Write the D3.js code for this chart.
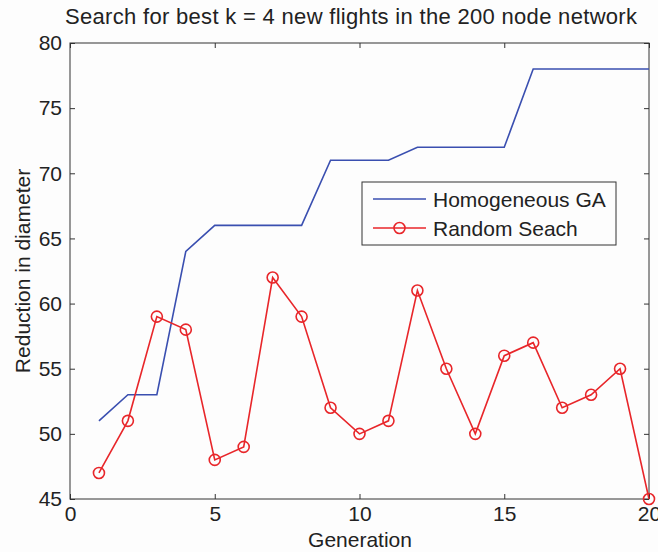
<!DOCTYPE html>
<html>
<head>
<meta charset="utf-8">
<script src="https://cdn.jsdelivr.net/npm/d3@7"></script>
<style>
  body { margin: 0; background: #fdfdfd; }
  svg { font-family: "Liberation Sans", Arial, sans-serif; }
</style>
</head>
<body>
<svg id="canvas" width="658" height="552"></svg>
<script>
/***********************************************************************/
// Data

var generations = d3.range(1, 21);
var gaValues = [51, 53, 53, 64, 66, 66, 66, 66, 71, 71, 71, 72, 72, 72, 72, 78, 78, 78, 78, 78];
var randomValues = [47, 51, 59, 58, 48, 49, 62, 59, 52, 50, 51, 61, 55, 50, 56, 57, 52, 53, 55, 45];
var xTicks = [0, 5, 10, 15, 20];
var yTicks = [45, 50, 55, 60, 65, 70, 75, 80];
var seriesNames = ['Homogeneous GA', 'Random Seach'];

/***********************************************************************/
// Layout

var plotLeft = 70, plotRight = 649, plotTop = 43, plotBottom = 499;
var svg = d3.select('#canvas');

svg.append('rect').attr('width', 658).attr('height', 552).attr('fill', '#fdfdfd');

var xScale = d3.scaleLinear().domain([0, 20]).range([plotLeft, plotRight]);
var yScale = d3.scaleLinear().domain([45, 80]).range([plotBottom, plotTop]);

/***********************************************************************/
// Axes (inward ticks, mirrored on top / right)

var axisColor = '#333';
var tickLen = 5;
var fontSize = 21;

function styleAxis(g){
  g.select('.domain').remove();
  g.selectAll('line').attr('stroke', axisColor);
  g.selectAll('text').attr('fill', '#222').attr('font-size', fontSize).attr('font-family', null);
}

svg.append('g').attr('transform', 'translate(0,' + plotBottom + ')')
  .call(d3.axisBottom(xScale).tickValues(xTicks).tickSizeInner(-tickLen).tickSizeOuter(0).tickPadding(7))
  .call(styleAxis);
svg.append('g').attr('transform', 'translate(0,' + plotTop + ')')
  .call(d3.axisTop(xScale).tickValues(xTicks).tickSizeInner(-tickLen).tickSizeOuter(0).tickFormat(''))
  .call(styleAxis);
svg.append('g').attr('transform', 'translate(' + plotLeft + ',0)')
  .call(d3.axisLeft(yScale).tickValues(yTicks).tickSizeInner(-tickLen).tickSizeOuter(0).tickPadding(8))
  .call(styleAxis);
svg.append('g').attr('transform', 'translate(' + plotRight + ',0)')
  .call(d3.axisRight(yScale).tickValues(yTicks).tickSizeInner(-tickLen).tickSizeOuter(0).tickFormat(''))
  .call(styleAxis);

svg.append('rect')
  .attr('x', plotLeft).attr('y', plotTop).attr('width', plotRight - plotLeft).attr('height', plotBottom - plotTop)
  .attr('fill', 'none').attr('stroke', axisColor).attr('stroke-width', 1);

/***********************************************************************/
// Lines

var line = d3.line().x((d, i) => xScale(generations[i])).y(d => yScale(d));

svg.append('path').datum(gaValues)
  .attr('d', line).attr('fill', 'none').attr('stroke', '#3a4fb0').attr('stroke-width', 1.6);

svg.append('path').datum(randomValues)
  .attr('d', line).attr('fill', 'none').attr('stroke', '#e8262a').attr('stroke-width', 1.6);

svg.selectAll('.marker').data(randomValues).enter().append('circle')
  .attr('cx', (d, i) => xScale(generations[i])).attr('cy', d => yScale(d))
  .attr('r', 5.5).attr('fill', 'none').attr('stroke', '#e8262a').attr('stroke-width', 1.6);

/***********************************************************************/
// Text

svg.append('text').attr('x', 351).attr('y', 24).attr('text-anchor', 'middle')
  .attr('font-size', 22).attr('fill', '#222').attr('textLength', 572)
  .text('Search for best k = 4 new flights in the 200 node network');

svg.append('text').attr('x', 360).attr('y', 547).attr('text-anchor', 'middle')
  .attr('font-size', fontSize).attr('fill', '#222').text('Generation');

svg.append('text').attr('transform', 'translate(30,271) rotate(-90)').attr('text-anchor', 'middle')
  .attr('font-size', fontSize).attr('fill', '#222').text('Reduction in diameter');

/***********************************************************************/
// Legend

var legend = svg.append('g').attr('transform', 'translate(362,182)');
legend.append('rect').attr('width', 254).attr('height', 63)
  .attr('fill', '#fdfdfd').attr('stroke', axisColor).attr('stroke-width', 1);

var legendColors = ['#3a4fb0', '#e8262a'];
seriesNames.forEach((name, i) => {
  var y = 17 + i * 29;
  legend.append('line').attr('x1', 11).attr('x2', 64).attr('y1', y).attr('y2', y)
    .attr('stroke', legendColors[i]).attr('stroke-width', 1.6);
  if(i == 1){
    legend.append('circle').attr('cx', 37.5).attr('cy', y).attr('r', 5.5)
      .attr('fill', 'none').attr('stroke', legendColors[i]).attr('stroke-width', 1.6);
  }
  legend.append('text').attr('x', 71).attr('y', y + 7.5).attr('font-size', fontSize).attr('fill', '#222').text(name);
});
</script>
</body>
</html>
